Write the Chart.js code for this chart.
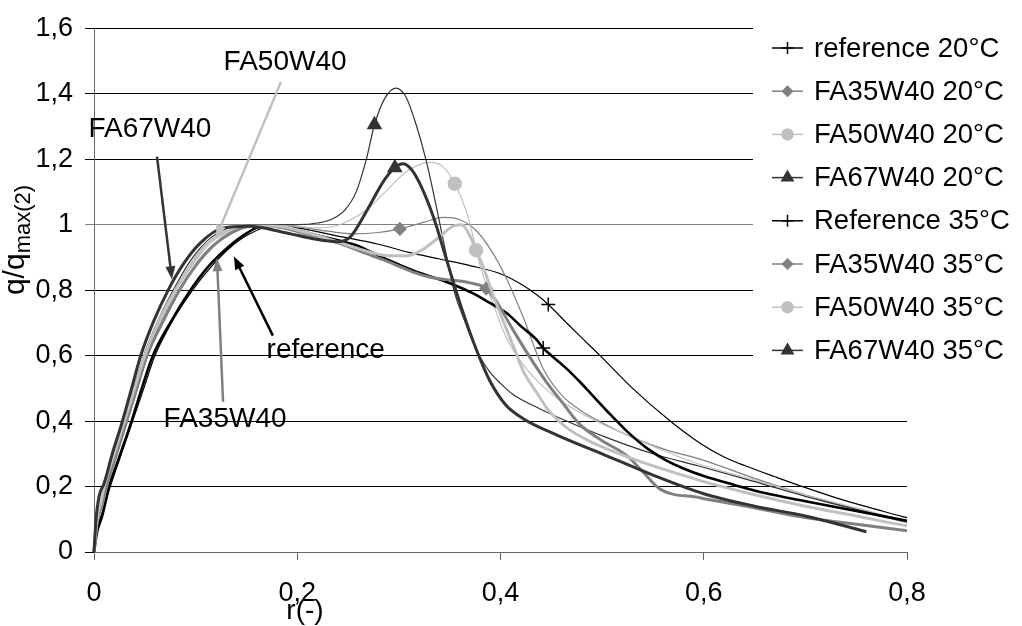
<!DOCTYPE html>
<html>
<head>
<meta charset="utf-8">
<script src="https://cdn.jsdelivr.net/npm/chart.js@4.4.0/dist/chart.umd.min.js"></script>
<style>
  body { margin: 0; background: #fff; }
</style>
</head>
<body>
<canvas id="myChart" width="1022" height="626"></canvas>
<script>
// q/qmax(2) against r(-), one [r, q] pair per point
const ref20 = [[0,0],[0.003,0.07],[0.008,0.12],[0.016,0.2],[0.027,0.3],[0.038,0.4],[0.049,0.5],[0.060,0.6],[0.078,0.71],[0.097,0.8],[0.115,0.87],[0.132,0.925],[0.152,0.97],[0.175,0.995],[0.20,0.99],[0.24,0.965],[0.28,0.94],[0.31,0.915],[0.34,0.895],[0.37,0.875],[0.40,0.85],[0.422,0.815],[0.436,0.785],[0.447,0.756],[0.465,0.70],[0.478,0.66],[0.498,0.60],[0.53,0.50],[0.567,0.40],[0.596,0.333],[0.62,0.29],[0.642,0.262],[0.67,0.23],[0.698,0.199],[0.74,0.156],[0.77,0.13],[0.8,0.105],[0.808,0.1]];
const fa35_20 = [[0,0],[0.003,0.09],[0.008,0.14],[0.013,0.2],[0.023,0.3],[0.033,0.4],[0.043,0.5],[0.053,0.6],[0.068,0.7],[0.085,0.8],[0.10,0.87],[0.12,0.94],[0.14,0.98],[0.16,0.997],[0.2,0.993],[0.23,0.98],[0.255,0.972],[0.28,0.976],[0.301,0.987],[0.324,1.007],[0.344,1.022],[0.36,1.015],[0.375,0.985],[0.39,0.925],[0.406,0.835],[0.422,0.72],[0.442,0.56],[0.46,0.48],[0.48,0.43],[0.5,0.395],[0.53,0.35],[0.56,0.315],[0.6,0.28],[0.65,0.225],[0.7,0.175],[0.75,0.13],[0.8,0.09],[0.808,0.085]];
const fa50_20 = [[0,0],[0.003,0.1],[0.008,0.15],[0.011,0.2],[0.021,0.3],[0.031,0.4],[0.041,0.5],[0.051,0.6],[0.065,0.7],[0.081,0.8],[0.098,0.88],[0.115,0.945],[0.135,0.98],[0.155,0.997],[0.19,0.998],[0.219,0.99],[0.24,0.998],[0.256,1.02],[0.27,1.05],[0.285,1.095],[0.308,1.163],[0.33,1.19],[0.343,1.178],[0.355,1.125],[0.367,1.035],[0.38,0.875],[0.393,0.755],[0.405,0.66],[0.416,0.60],[0.428,0.55],[0.442,0.505],[0.46,0.46],[0.494,0.40],[0.53,0.35],[0.56,0.31],[0.596,0.268],[0.65,0.22],[0.7,0.175],[0.75,0.135],[0.8,0.095],[0.808,0.09]];
const fa67_20 = [[0,0],[0.003,0.1],[0.007,0.15],[0.012,0.2],[0.021,0.3],[0.030,0.4],[0.039,0.5],[0.049,0.6],[0.062,0.7],[0.078,0.8],[0.095,0.89],[0.115,0.96],[0.14,0.995],[0.17,1.0],[0.2,1.0],[0.22,1.005],[0.235,1.018],[0.247,1.045],[0.258,1.10],[0.268,1.2],[0.276,1.305],[0.286,1.385],[0.297,1.417],[0.307,1.39],[0.317,1.305],[0.327,1.194],[0.337,1.053],[0.347,0.902],[0.355,0.79],[0.363,0.72],[0.371,0.655],[0.38,0.595],[0.39,0.548],[0.40,0.515],[0.412,0.482],[0.439,0.437],[0.465,0.40],[0.504,0.35],[0.55,0.30],[0.596,0.262],[0.65,0.215],[0.7,0.17],[0.75,0.13],[0.8,0.095],[0.808,0.09]];
const ref35 = [[0,0],[0.003,0.06],[0.008,0.11],[0.015,0.2],[0.026,0.3],[0.037,0.4],[0.047,0.5],[0.058,0.6],[0.075,0.7],[0.095,0.8],[0.112,0.87],[0.128,0.92],[0.146,0.965],[0.166,0.995],[0.19,0.99],[0.21,0.975],[0.24,0.952],[0.26,0.935],[0.28,0.905],[0.30,0.878],[0.32,0.853],[0.347,0.825],[0.373,0.79],[0.39,0.76],[0.406,0.73],[0.42,0.69],[0.435,0.65],[0.442,0.623],[0.45,0.60],[0.465,0.56],[0.478,0.52],[0.49,0.48],[0.505,0.43],[0.524,0.37],[0.545,0.315],[0.563,0.28],[0.58,0.255],[0.6,0.232],[0.63,0.205],[0.66,0.18],[0.70,0.155],[0.75,0.125],[0.8,0.095],[0.808,0.09]];
const fa35_35 = [[0,0],[0.003,0.09],[0.008,0.145],[0.012,0.2],[0.022,0.3],[0.032,0.4],[0.042,0.5],[0.052,0.6],[0.067,0.7],[0.084,0.8],[0.10,0.875],[0.117,0.935],[0.135,0.975],[0.155,0.995],[0.175,0.995],[0.193,0.985],[0.22,0.962],[0.242,0.942],[0.265,0.915],[0.291,0.885],[0.314,0.855],[0.33,0.84],[0.347,0.832],[0.37,0.822],[0.386,0.805],[0.396,0.765],[0.412,0.68],[0.432,0.58],[0.445,0.52],[0.46,0.46],[0.478,0.39],[0.50,0.34],[0.524,0.295],[0.54,0.245],[0.557,0.192],[0.596,0.166],[0.65,0.135],[0.694,0.108],[0.75,0.085],[0.8,0.065],[0.808,0.062]];
const fa50_35 = [[0,0],[0.003,0.1],[0.007,0.155],[0.010,0.2],[0.020,0.3],[0.030,0.4],[0.040,0.5],[0.050,0.6],[0.063,0.7],[0.080,0.8],[0.096,0.88],[0.112,0.945],[0.13,0.98],[0.145,0.995],[0.18,0.995],[0.21,0.975],[0.242,0.945],[0.265,0.922],[0.29,0.905],[0.308,0.905],[0.324,0.925],[0.34,0.963],[0.353,0.995],[0.362,1.0],[0.37,0.965],[0.376,0.922],[0.383,0.871],[0.393,0.781],[0.406,0.68],[0.415,0.61],[0.422,0.555],[0.435,0.49],[0.448,0.43],[0.465,0.38],[0.488,0.338],[0.537,0.277],[0.577,0.237],[0.6,0.215],[0.65,0.175],[0.7,0.14],[0.75,0.11],[0.8,0.08],[0.808,0.077]];
const fa67_35 = [[0,0],[0.002,0.1],[0.005,0.17],[0.01,0.21],[0.018,0.3],[0.028,0.4],[0.037,0.5],[0.046,0.6],[0.058,0.7],[0.073,0.8],[0.088,0.88],[0.105,0.945],[0.127,0.99],[0.153,0.995],[0.186,0.977],[0.219,0.955],[0.239,0.948],[0.252,0.962],[0.268,1.04],[0.285,1.133],[0.296,1.174],[0.304,1.186],[0.312,1.17],[0.321,1.123],[0.334,1.023],[0.347,0.892],[0.36,0.761],[0.376,0.62],[0.39,0.52],[0.405,0.45],[0.422,0.408],[0.455,0.358],[0.5,0.30],[0.55,0.235],[0.6,0.178],[0.65,0.14],[0.7,0.11],[0.76,0.062]];

const labels = ["reference 20°C", "FA35W40 20°C", "FA50W40 20°C", "FA67W40 20°C",
                "Reference 35°C", "FA35W40 35°C", "FA50W40 35°C", "FA67W40 35°C"];
const xTicks = [0, 0.2, 0.4, 0.6, 0.8];
const yTicks = [0, 0.2, 0.4, 0.6, 0.8, 1, 1.2, 1.4, 1.6];

const FONT = "'Liberation Sans', Arial, sans-serif";

// r value of the one point in each series that carries a marker
const series = [
  { data: ref20,   color: "#000000", width: 1.2, style: "cross",    mark: 0.447, size: 7 },
  { data: fa35_20, color: "#808080", width: 1.2, style: "rectRot",  mark: 0.301, size: 6 },
  { data: fa50_20, color: "#c0c0c0", width: 1.2, style: "circle",   mark: 0.355, size: 6.5 },
  { data: fa67_20, color: "#333333", width: 1.2, style: "triangle", mark: 0.276, size: 7.5 },
  { data: ref35,   color: "#000000", width: 2.6, style: "cross",    mark: 0.442, size: 7 },
  { data: fa35_35, color: "#808080", width: 3,   style: "rectRot",  mark: 0.386, size: 6 },
  { data: fa50_35, color: "#c0c0c0", width: 3,   style: "circle",   mark: 0.376, size: 6.5 },
  { data: fa67_35, color: "#333333", width: 3,   style: "triangle", mark: 0.296, size: 7.5 }
];

// callout texts and their arrows, in data units
const notes = [
  { text: "FA50W40",   at: [0.188, 1.495], from: [0.184, 1.436], to: [0.120, 0.960], color: "#c0c0c0" },
  { text: "FA67W40",   at: [0.055, 1.292], from: [0.062, 1.208], to: [0.0767, 0.833], color: "#333333" },
  { text: "reference", at: [0.228, 0.616], from: [0.176, 0.661], to: [0.1377, 0.903], color: "#000000" },
  { text: "FA35W40",   at: [0.129, 0.404], from: [0.127, 0.459], to: [0.121, 0.897], color: "#808080" }
];

function comma(v) {
  return String(Math.round(v * 10) / 10).replace(".", ",");
}

function drawArrow(ctx, x1, y1, x2, y2, color) {
  const a = Math.atan2(y2 - y1, x2 - x1);
  const head = 13, half = 5;
  ctx.strokeStyle = color;
  ctx.fillStyle = color;
  ctx.lineWidth = 2.5;
  ctx.beginPath();
  ctx.moveTo(x1, y1);
  ctx.lineTo(x2 - Math.cos(a) * head * 0.8, y2 - Math.sin(a) * head * 0.8);
  ctx.stroke();
  ctx.beginPath();
  ctx.moveTo(x2, y2);
  ctx.lineTo(x2 - head * Math.cos(a) + half * Math.sin(a), y2 - head * Math.sin(a) - half * Math.cos(a));
  ctx.lineTo(x2 - head * Math.cos(a) - half * Math.sin(a), y2 - head * Math.sin(a) + half * Math.cos(a));
  ctx.closePath();
  ctx.fill();
}

const overlay = {
  id: "overlay",
  afterDraw(chart) {
    const ctx = chart.ctx;
    const xs = chart.scales.x, ys = chart.scales.y;
    ctx.save();

    // callouts
    ctx.font = "28px " + FONT;
    ctx.textAlign = "center";
    ctx.textBaseline = "middle";
    for (const n of notes) {
      drawArrow(ctx, xs.getPixelForValue(n.from[0]), ys.getPixelForValue(n.from[1]),
                xs.getPixelForValue(n.to[0]), ys.getPixelForValue(n.to[1]), n.color);
      ctx.fillStyle = "#000";
      ctx.fillText(n.text, xs.getPixelForValue(n.at[0]), ys.getPixelForValue(n.at[1]));
    }

    // legend, laid over the right part of the plot
    ctx.fillStyle = "#fff";
    ctx.fillRect(753, 26, 269, 348);
    ctx.textAlign = "left";
    ctx.font = "27.5px " + FONT;
    chart.data.datasets.forEach((ds, i) => {
      const y = 48 + i * 43.2;
      ctx.strokeStyle = ds.borderColor;
      ctx.lineWidth = 1.5;
      ctx.beginPath();
      ctx.moveTo(772, y);
      ctx.lineTo(803, y);
      ctx.stroke();
      ctx.fillStyle = ds.borderColor;
      Chart.helpers.drawPoint(ctx, { pointStyle: ds.pointStyle, radius: ds.markSize - 1, borderWidth: 1.5, rotation: 0 }, 787.5, y);
      ctx.fillStyle = "#000";
      ctx.fillText(ds.label, 814, y + 1);
    });

    // axis titles
    ctx.fillStyle = "#000";
    ctx.textAlign = "center";
    ctx.font = "28px " + FONT;
    ctx.fillText("r(-)", 305, 611);

    ctx.translate(24, 240);
    ctx.rotate(-Math.PI / 2);
    ctx.textAlign = "left";
    ctx.textBaseline = "alphabetic";
    ctx.font = "30px " + FONT;
    const w1 = ctx.measureText("q/q").width;
    ctx.font = "22px " + FONT;
    const w2 = ctx.measureText("max(2)").width;
    const sx = -(w1 + w2) / 2;
    ctx.font = "30px " + FONT;
    ctx.fillText("q/q", sx, 0);
    ctx.font = "22px " + FONT;
    ctx.fillText("max(2)", sx + w1, 6);
    ctx.restore();
  }
};

const datasets = series.map((s, i) => ({
  label: labels[i],
  data: s.data.map(p => ({ x: p[0], y: p[1] })),
  borderColor: s.color,
  backgroundColor: s.color,
  borderWidth: s.width,
  pointStyle: s.style,
  pointBackgroundColor: s.color,
  pointBorderColor: s.color,
  pointBorderWidth: 1.5,
  pointRadius: ctx => (ctx.raw && ctx.raw.x === s.mark ? s.size : 0),
  pointHoverRadius: 0,
  cubicInterpolationMode: "monotone",
  order: series.length - i,
  clip: false,
  markSize: s.size
}));

const ctx = document.getElementById("myChart").getContext("2d");
const myChart = new Chart(ctx, {
  type: "line",
  data: { datasets: datasets },
  options: {
    responsive: false,
    animation: false,
    events: [],
    layout: { padding: { top: 22, right: 115, left: 0, bottom: 0 } },
    plugins: { legend: { display: false }, tooltip: { enabled: false } },
    scales: {
      x: {
        type: "linear",
        min: xTicks[0],
        max: xTicks[xTicks.length - 1],
        afterBuildTicks: s => { s.ticks = xTicks.map(v => ({ value: v })); },
        ticks: { color: "#000", font: { family: FONT, size: 27 }, padding: 17, maxRotation: 0, callback: v => comma(v) },
        grid: { drawOnChartArea: false, tickLength: 8, color: "#666" },
        border: { color: "#666" },
        afterFit: s => { s.height = 74; }
      },
      y: {
        min: yTicks[0],
        max: yTicks[yTicks.length - 1],
        afterBuildTicks: s => { s.ticks = yTicks.map(v => ({ value: v })); },
        ticks: { color: "#000", font: { family: FONT, size: 27 }, padding: 12, callback: v => comma(v) },
        grid: { tickLength: 9, color: c => (c.tick && c.tick.value === 1 ? "#808080" : "#000") },
        border: { color: "#666" },
        afterFit: s => { s.width = 94; }
      }
    }
  },
  plugins: [overlay]
});
</script>
</body>
</html>
